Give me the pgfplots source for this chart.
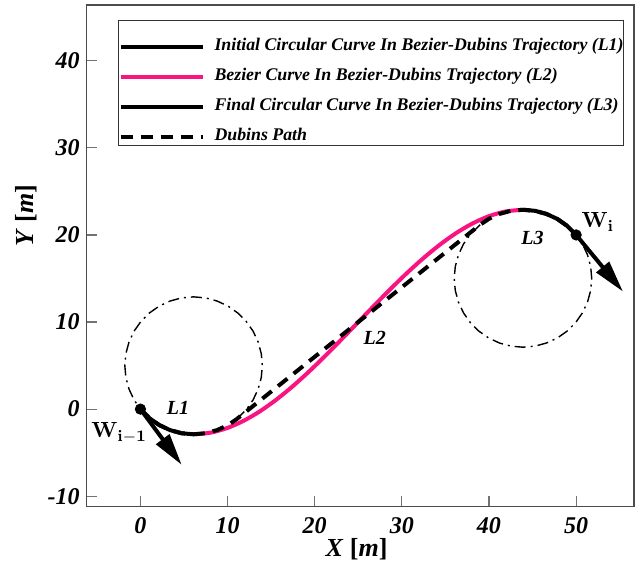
\documentclass[border=0pt]{standalone}
\usepackage[no-math]{fontspec}
\setmainfont{Liberation Serif}
\usepackage{pgfplots}
\pgfplotsset{compat=1.18}
\usetikzlibrary{arrows.meta}
\definecolor{bzpink}{RGB}{250,20,130}

\begin{document}
\begin{tikzpicture}
\begin{axis}[
    scale only axis,
    width=273.5pt, height=250.5pt,
    xmin=-6.16, xmax=56.64,
    ymin=-11.15, ymax=46.4,
    xtick={0,10,...,50},
    ytick={-10,0,...,40},
    tick align=inside, tick pos=left,
    major tick length=5pt,
    tick style={black!55, line width=0.6pt},
    axis line style={black!70, line width=0.7pt},
    /pgf/number format/assume math mode=true,
    ticklabel style={font=\fontsize{12}{12}\selectfont\bfseries\itshape},
    xticklabel style={yshift=-2pt},
    xlabel={\textbf{\textit{X}} \textbf{[\textit{m}]}},
    ylabel={\textbf{\textit{Y}} \textbf{[\textit{m}]}},
    label style={font=\fontsize{13}{13}\selectfont},
    xlabel style={at={(axis description cs:0.493,0)}, anchor=center, yshift=-21.5pt},
    ylabel style={at={(axis description cs:0,0.58)}, anchor=center, yshift=30pt},
    legend cell align=left,
    legend image code/.code={\draw[#1] (0pt,-4.5pt) -- (41pt,-4.5pt);},
    legend style={at={(axis cs:-2.57,44.7)}, anchor=north west,
        draw=black!80, line width=0.5pt, inner xsep=0pt, inner ysep=1pt,
        font=\fontsize{8.9}{10}\selectfont\bfseries\itshape,
        nodes={inner sep=0pt, text height=14pt, text depth=1.5pt},
        row sep=-0.5pt,
        /tikz/every odd column/.append style={column sep=5pt}},
    clip=false,
]
\coordinate (sw) at (rel axis cs:0,0);
\coordinate (ne) at (rel axis cs:1,1);

% dash-dot turning circles
\addplot[black, line width=0.7pt, dash pattern=on 5.5pt off 2.5pt on 1pt off 2.5pt, forget plot] coordinates {
  (11.02,-1.17) (11.17,-1.04) (12.14,-0.07) (12.93,1.06) (13.51,2.30) (13.87,3.63)
  (13.99,5) (13.87,6.37) (13.51,7.70) (12.93,8.95) (12.14,10.07) (11.17,11.04)
  (10.05,11.83) (8.80,12.41) (7.47,12.77) (6.1,12.89) (4.73,12.77) (3.40,12.41)
  (2.16,11.83) (1.03,11.04) (0.06,10.07) (-0.73,8.95) (-1.31,7.70) (-1.67,6.37)
  (-1.79,5) (-1.67,3.63) (-1.31,2.30) (-0.73,1.06) (0,0)};
\addplot[black, line width=0.7pt, dash pattern=on 5.5pt off 2.5pt on 1pt off 2.5pt, forget plot] coordinates {
  (38.98,21.17) (37.86,20.07) (37.07,18.95) (36.49,17.70) (36.13,16.37) (36.01,15)
  (36.13,13.63) (36.49,12.30) (37.07,11.06) (37.86,9.93) (38.83,8.96) (39.96,8.17)
  (41.20,7.59) (42.53,7.23) (43.9,7.11) (45.27,7.23) (46.60,7.59) (47.85,8.17)
  (48.97,8.96) (49.94,9.93) (50.73,11.06) (51.31,12.30) (51.67,13.63) (51.79,15)
  (51.67,16.37) (51.31,17.70) (50.73,18.95) (50,20)};

% L1 initial circular curve
\addplot[black, line width=2pt] coordinates {
  (0,0) (1.03,-1.04) (2.16,-1.83) (3.40,-2.41) (4.73,-2.77) (6.1,-2.89)};
\addlegendentry{Initial Circular Curve In Bezier-Dubins Trajectory (L1)}

% L2 Bezier curve
\addplot[bzpink, line width=2pt, smooth] coordinates {
  (6.1,-2.89) (8.041,-2.703) (9.966,-2.168) (11.877,-1.323) (13.775,-0.209)
  (15.662,1.139) (17.540,2.679) (19.411,4.373) (21.278,6.185) (23.139,8.073)
  (25,10) (26.861,11.927) (28.722,13.815) (30.589,15.627) (32.460,17.321)
  (34.338,18.861) (36.225,20.209) (38.123,21.323) (40.034,22.168) (41.959,22.703)
  (43.9,22.89)};
\addlegendentry{Bezier Curve In Bezier-Dubins Trajectory (L2)}

% L3 final circular curve
\addplot[black, line width=2pt] coordinates {
  (43.9,22.89) (45.27,22.77) (46.60,22.41) (47.85,21.83) (48.97,21.04) (49.94,20.07) (50,20)};
\addlegendentry{Final Circular Curve In Bezier-Dubins Trajectory (L3)}

% Dubins path
\addplot[black, line width=2pt, dash pattern=on 6pt off 4pt] coordinates {
  (0,0) (1.03,-1.04) (2.16,-1.83) (3.40,-2.41) (4.73,-2.77) (6.1,-2.89)
  (7.47,-2.77) (8.80,-2.41) (10.05,-1.83) (11.02,-1.17)
  (38.98,21.17) (39.96,21.83) (41.20,22.41) (42.53,22.77) (43.9,22.89)
  (45.27,22.77) (46.60,22.41) (47.85,21.83) (48.97,21.04) (49.94,20.07) (50,20)};
\addlegendentry{Dubins Path}

% heading arrows and waypoints
\addplot[black, line width=2pt, -{Triangle[length=16pt,width=8pt]}, forget plot] coordinates {(0,0) (4.74,-6.4)};
\addplot[black, line width=2pt, -{Triangle[length=16pt,width=8pt]}, forget plot] coordinates {(50,20) (55.38,13.49)};
\addplot[black, only marks, mark=*, mark size=2.6pt, forget plot] coordinates {(0,0) (50,20)};

\node[font=\fontsize{10}{10}\selectfont\bfseries\itshape] at (axis cs:4.3,0.1) {L1};
\node[font=\fontsize{10}{10}\selectfont\bfseries\itshape] at (axis cs:26.9,8.2) {L2};
\node[font=\fontsize{10}{10}\selectfont\bfseries\itshape] at (axis cs:45,19.6) {L3};
\node[font=\fontsize{11}{11}\selectfont] at (axis cs:-2.45,-2.7) {$\mathbf{W}_{\mathbf{i-1}}$};
\node[font=\fontsize{11}{11}\selectfont] at (axis cs:52.5,21.5) {$\mathbf{W}_{\mathbf{i}}$};
\end{axis}
\pgfresetboundingbox
\path ([shift={(-43.35pt,-30.5pt)}]sw) rectangle ([shift={(1.5pt,2.5pt)}]ne);
\end{tikzpicture}
\end{document}
